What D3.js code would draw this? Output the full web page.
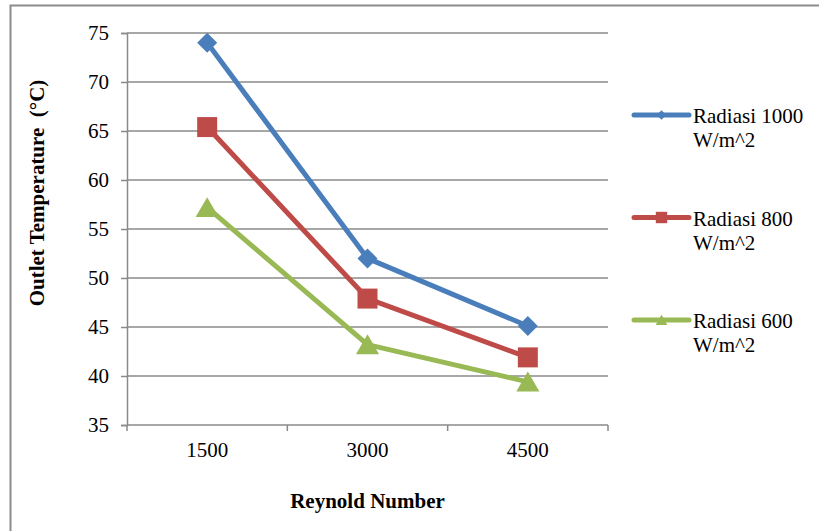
<!DOCTYPE html>
<html>
<head>
<meta charset="utf-8">
<script src="https://cdn.jsdelivr.net/npm/d3@7/dist/d3.min.js"></script>
<style>
  html, body { margin: 0; padding: 0; background: #fff; }
  svg { display: block; }
</style>
</head>
<body>
<svg id="chart" width="819" height="531"></svg>
<script>
// Reynold number categories on the x axis
const categories = ["1500", "3000", "4500"];

// Outlet temperature (°C) for each irradiance level
const radiasi1000 = [74.0, 52.0, 45.1];
const radiasi800  = [65.4, 47.9, 41.9];
const radiasi600  = [57.2, 43.2, 39.4];

const seriesNames  = ["Radiasi 1000", "Radiasi 800", "Radiasi 600"];
const seriesUnit   = "W/m^2";
const seriesColors = ["#4a7ebb", "#be4b48", "#98b954"];
const seriesShapes = ["diamond", "square", "triangle"];

const yTicks = [35, 40, 45, 50, 55, 60, 65, 70, 75];

const FONT = "'Liberation Serif', 'Times New Roman', Times, serif";
const FS = "21px";

// marker geometry: symbol type, area, rotation
const shapeDefs = {
  diamond:  { type: d3.symbolSquare,   size: 200, rotate: 45, dy: 0 },
  square:   { type: d3.symbolSquare,   size: 400, rotate: 0,  dy: 0 },
  triangle: { type: d3.symbolTriangle, size: 230, rotate: 0,  dy: 3 }
};
const legendSizes = { diamond: 45, square: 130, triangle: 60 };

const series = [radiasi1000, radiasi800, radiasi600].map((vals, i) => ({
  name: seriesNames[i], color: seriesColors[i], shape: seriesShapes[i],
  points: categories.map((c, j) => ({ cat: c, value: vals[j] }))
}));

const svg = d3.select("#chart");

// outer chart frame
svg.append("rect")
  .attr("x", 10.5).attr("y", 5.5)
  .attr("width", 900).attr("height", 600)
  .attr("fill", "#fff").attr("stroke", "#8c8c8c").attr("stroke-width", 2);

const plot = { left: 127, right: 608, top: 33, bottom: 425 };

const x = d3.scaleBand().domain(categories).range([plot.left, plot.right]);
const y = d3.scaleLinear().domain([35, 75]).range([plot.bottom, plot.top]);

// horizontal gridlines
svg.append("g").selectAll("line").data(yTicks.filter(t => t > 35)).join("line")
  .attr("x1", plot.left).attr("x2", plot.right)
  .attr("y1", d => y(d)).attr("y2", d => y(d))
  .attr("stroke", "#8a8a8a").attr("stroke-width", 1.5);

// y axis
const yAxis = svg.append("g").attr("transform", `translate(${plot.left},0)`)
  .call(d3.axisLeft(y).tickValues(yTicks).tickSize(6).tickPadding(12));
yAxis.attr("font-family", null).attr("font-size", null);
yAxis.select(".domain").attr("stroke", "#8a8a8a").attr("stroke-width", 1.5);
yAxis.selectAll(".tick line").attr("stroke", "#8a8a8a").attr("stroke-width", 1.5);
yAxis.selectAll(".tick text")
  .style("font-family", FONT).style("font-size", FS).attr("fill", "#000");

// x axis with ticks at category boundaries
const xAxis = svg.append("g").attr("transform", `translate(0,${plot.bottom})`);
xAxis.append("line").attr("x1", plot.left).attr("x2", plot.right)
  .attr("stroke", "#8a8a8a").attr("stroke-width", 1.5);
const bounds = categories.map(c => x(c)).concat([x(categories[categories.length - 1]) + x.bandwidth()]);
xAxis.selectAll("line.tk").data(bounds).join("line").attr("class", "tk")
  .attr("x1", d => d).attr("x2", d => d).attr("y1", 0).attr("y2", 6)
  .attr("stroke", "#8a8a8a").attr("stroke-width", 1.5);
xAxis.selectAll("text").data(categories).join("text")
  .attr("x", d => x(d) + x.bandwidth() / 2).attr("y", 32)
  .attr("text-anchor", "middle")
  .style("font-family", FONT).style("font-size", FS)
  .text(d => d);

// axis titles
svg.append("text")
  .attr("transform", `translate(44,193) rotate(-90)`)
  .attr("text-anchor", "middle")
  .style("font-family", FONT).style("font-size", FS).style("font-weight", "bold")
  .text("Outlet Temperature \u00a0(°C)");
svg.append("text")
  .attr("x", (plot.left + plot.right) / 2).attr("y", 508)
  .attr("text-anchor", "middle")
  .style("font-family", FONT).style("font-size", FS).style("font-weight", "bold")
  .text("Reynold Number");

// series lines and markers
const line = d3.line().x(d => x(d.cat) + x.bandwidth() / 2).y(d => y(d.value));
const gs = svg.append("g").selectAll("g").data(series).join("g");
gs.append("path").attr("d", d => line(d.points))
  .attr("fill", "none").attr("stroke", d => d.color).attr("stroke-width", 5)
  .attr("stroke-linejoin", "round");
gs.each(function (s) {
  const def = shapeDefs[s.shape];
  d3.select(this).selectAll("path.m").data(s.points).join("path").attr("class", "m")
    .attr("transform", d => `translate(${x(d.cat) + x.bandwidth() / 2},${y(d.value) + def.dy}) rotate(${def.rotate})`)
    .attr("d", d3.symbol().type(def.type).size(def.size))
    .attr("fill", s.color);
});

// legend
const legend = svg.append("g").selectAll("g").data(series).join("g")
  .attr("transform", (d, i) => `translate(634,${115 + i * 102.5})`);
legend.append("line").attr("x1", 0).attr("x2", 55)
  .attr("stroke", d => d.color).attr("stroke-width", 5).attr("stroke-linecap", "round");
legend.append("path")
  .attr("transform", d => `translate(27.5,${shapeDefs[d.shape].dy / 2}) rotate(${shapeDefs[d.shape].rotate})`)
  .attr("d", d => d3.symbol().type(shapeDefs[d.shape].type).size(legendSizes[d.shape])())
  .attr("fill", d => d.color);
const lt = legend.append("text")
  .style("font-family", FONT).style("font-size", FS);
lt.append("tspan").attr("x", 59).attr("y", 8).text(d => d.name);
lt.append("tspan").attr("x", 59).attr("y", 32).text(seriesUnit);
</script>
</body>
</html>
